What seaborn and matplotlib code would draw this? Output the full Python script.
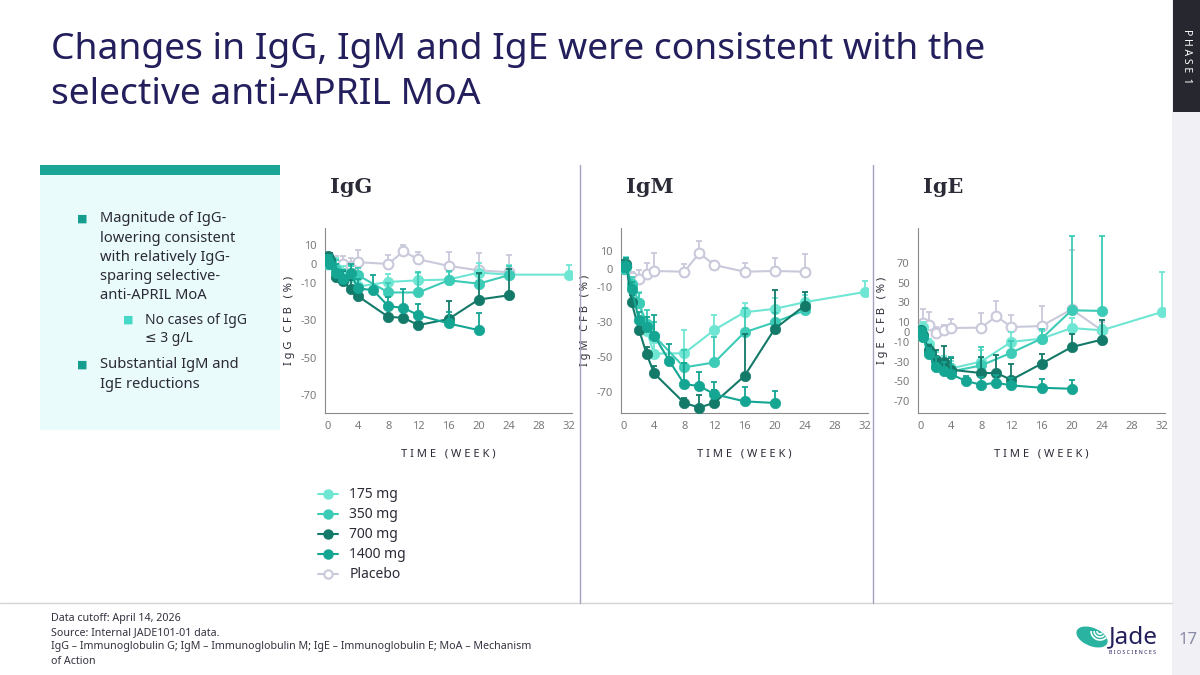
import matplotlib
matplotlib.use("Agg")
import matplotlib.pyplot as plt
import matplotlib.patches as mpatches
from matplotlib.lines import Line2D
import seaborn as sns
import pandas as pd
import numpy as np

# ---- data ----
doses = ["175 mg", "350 mg", "700 mg", "1400 mg", "Placebo"]
colors = {"175 mg": "#6fe6d3", "350 mg": "#3ccbb6", "700 mg": "#137a69",
          "1400 mg": "#14a593", "Placebo": "#c9c9dc"}

weeks = {
    "175 mg":  [0, 0.3, 1, 2, 3, 4, 8, 12, 16, 20, 24, 32],
    "350 mg":  [0, 0.3, 1, 2, 3, 4, 8, 12, 16, 20, 24],
    "700 mg":  [0, 0.3, 1, 2, 3, 4, 8, 10, 12, 16, 20, 24],
    "1400 mg": [0, 0.3, 1, 2, 3, 4, 6, 8, 10, 12, 16, 20],
    "Placebo": [0, 0.3, 1, 2, 3, 4, 8, 10, 12, 16, 20, 24],
}

igg = {
    "175 mg":  [0, 2, -2, -5, -7, -12, -9.6, -8.7, -8.3, -4.6, -5.7, -5.7],
    "350 mg":  [0, 1, -3, -8, -6, -6, -15.2, -15.2, -8.7, -10.5, -6],
    "700 mg":  [4, 2, -7, -9, -13.6, -17.2, -28.2, -28.7, -32.6, -29.4, -19, -16.7],
    "1400 mg": [2, 0, -5, -8, -5, -13, -14, -22.5, -23.4, -27.3, -31.7, -35.3],
    "Placebo": [0, 1, 0, 0, -1, 1, 0, 6.7, 2.5, -1, -3.4, -4.4],
}
igg_err = {
    "175 mg":  [0, 4, 5, 4, 4, 4, 4, 4, 4, 5, 5, 5],
    "350 mg":  [0, 4, 5, 5, 5, 4, 5, 11, 5, 5, 5],
    "700 mg":  [2, 4, 4, 5, 5, 4, 4, 4, 4, 9.4, 14, 14],
    "1400 mg": [3, 5, 5, 5, 5, 5, 8, 5, 10, 6, 6, 9],
    "Placebo": [3, 5, 4, 4, 4, 6.6, 5, 3.3, 4, 7.5, 9, 9.4],
}

igm = {
    "175 mg":  [0, 2, -9.3, -19, -35, -48, -47.8, -34.5, -24.5, -22.6, -18.8, -13],
    "350 mg":  [0, 1, -8.3, -19.4, -31, -37.8, -55.8, -53, -35.9, -30.2, -23.5],
    "700 mg":  [2, 3, -18.8, -34.5, -48.2, -59.2, -76, -78.6, -75.9, -60.7, -34, -20.7],
    "1400 mg": [1, 2, -11.2, -29.2, -33, -37.8, -52, -65.3, -66.4, -71, -75.1, -76],
    "Placebo": [0, 2, -4.5, -5.5, -2.7, -1.1, -1.5, 9.1, 2.3, -1.5, -1.1, -1.5],
}
igm_err = {
    "175 mg":  [0, 5, 4, 6, 8, 6, 13, 8.5, 5, 6, 4, 6],
    "350 mg":  [0, 5, 4, 6, 8, 8, 10, 14.7, 14, 5, 5],
    "700 mg":  [3, 3, 4, 4, 4, 4, 3, 7, 7, 24, 22, 7.5],
    "1400 mg": [3, 4, 4, 5, 6, 12, 9.5, 12, 8, 7, 8, 7],
    "Placebo": [3, 5, 3, 5, 6, 10, 4.5, 7, 2, 5, 7.5, 10],
}

ige = {
    "175 mg":  [0, 5, -12, -28, -32, -37, -30, -10, -6.8, 4, 1.7, 20.3],
    "350 mg":  [0, -5, -20, -33, -38, -40, -34, -21, -6.8, 22, 21.4],
    "700 mg":  [2, -3, -18, -28, -30.5, -38.3, -41.7, -41.7, -48.5, -32.2, -15.3, -7.8],
    "1400 mg": [1, -5, -22.7, -35.6, -40, -43, -49.8, -53.5, -51.5, -54.2, -56.6, -57.6],
    "Placebo": [0, 9, 7, -0.7, 1.7, 4, 4.4, 16, 5, 6, 23, 1.7],
}
ige_err = {
    "175 mg":  [0, 5, 5, 8, 8, 8, 12, 10, 8, 10, 5, 41],
    "350 mg":  [0, 5, 8, 8, 8, 8, 19, 12, 10, 75, 76],
    "700 mg":  [3, 5, 5, 10, 16, 12, 16, 18, 16, 10, 13.6, 20],
    "1400 mg": [3, 5, 6, 10, 10, 18, 5, 8, 8, 8, 9, 8.5],
    "Placebo": [3, 14, 13.5, 5.7, 5, 9.5, 15, 15, 12.5, 20, 60, 8],
}

x_ticks = [0, 4, 8, 12, 16, 20, 24, 28, 32]
igg_ticks = [10, 0, -10, -30, -50, -70]
igm_ticks = [10, 0, -10, -30, -50, -70]
ige_ticks = [70, 50, 30, 10, 0, -10, -30, -50, -70]

# ---- figure ----
sns.set_style("white")
plt.rcParams['font.family'] = ['Noto Sans', 'DejaVu Sans']
plt.rcParams['axes.unicode_minus'] = False

W, H = 1200, 675
fig = plt.figure(figsize=(12, 6.75), dpi=100)
fig.patch.set_facecolor("white")

def fx(x):
    return x / W

def fy(y):
    return 1 - y / H

def rect(x0, y0, x1, y1, color):
    fig.add_artist(mpatches.Rectangle((fx(x0), fy(y1)), fx(x1) - fx(x0), fy(y0) - fy(y1),
                                      transform=fig.transFigure, color=color, lw=0, zorder=0))

navy = "#231f5c"
txt = "#2b2b38"

# page decorations
rect(1172, 0, 1200, 675, "#f1f1f5")
rect(1173, 0, 1200, 112, "#26272f")
fig.text(fx(1187), fy(56), "P H A S E  1", rotation=270, color="white", fontsize=7.5,
         ha="center", va="center")
fig.add_artist(Line2D([0, fx(1172)], [fy(603), fy(603)], transform=fig.transFigure,
                      color="#d4d4d8", lw=1))
for xs in [580, 873]:
    fig.add_artist(Line2D([fx(xs), fx(xs)], [fy(165), fy(603)], transform=fig.transFigure,
                          color="#a3a3bf", lw=1))

fig.text(fx(51), fy(50), "Changes in IgG, IgM and IgE were consistent with the",
         fontsize=26.8, color=navy, va="center")
fig.text(fx(51), fy(95), "selective anti-APRIL MoA", fontsize=26.8, color=navy, va="center")

# left box
rect(40, 165, 280, 430, "#eafbfb")
rect(40, 165, 280, 175, "#1aa596")
lines = [(100, 219, "Magnitude of IgG-"), (100, 238, "lowering consistent"),
         (100, 257, "with relatively IgG-"), (100, 276, "sparing selective-"),
         (100, 295, "anti-APRIL MoA"), (145, 320, "No cases of IgG"),
         (145, 339, "\u2264 3 g/L"), (100, 365, "Substantial IgM and"),
         (100, 384, "IgE reductions")]
for x, y, s in lines:
    fs = 10.6 if x == 100 else 10
    fig.text(fx(x), fy(y), s, fontsize=fs, color=txt, va="center")
for x, y, c in [(82, 219, "#159e8e"), (128, 320, "#46d8c8"), (82, 365, "#159e8e")]:
    fig.text(fx(x), fy(y), "\u25A0", fontsize=8, color=c, va="center", ha="center",
             family=["DejaVu Sans"])

# footer
foot = ["Data cutoff: April 14, 2026", "Source: Internal JADE101-01 data.",
        "IgG \u2013 Immunoglobulin G; IgM \u2013 Immunoglobulin M; IgE \u2013 Immunoglobulin E; MoA \u2013 Mechanism",
        "of Action"]
for i, s in enumerate(foot):
    fig.text(fx(51), fy(619 + 14 * i), s, fontsize=7.7, color="#333340", va="center")
fig.text(fx(1188), fy(640), "17", fontsize=12, color="#8a8aa8", ha="center", va="center")

# logo
fig.add_artist(mpatches.Ellipse((fx(1092), fy(637)), fx(24), 22 / H, angle=35,
                                transform=fig.transFigure, color="#2ab3a0", zorder=2))
for k, r in enumerate([9, 6, 3]):
    fig.add_artist(mpatches.Arc((fx(1100), fy(631)), 2 * r / W, 2 * r / H, theta1=180, theta2=300,
                                transform=fig.transFigure, color="white", lw=1.2, zorder=3))
fig.text(fx(1109), fy(637), "Jade", fontsize=17.5, color=navy, va="center", ha="left")
fig.text(fx(1109), fy(652), "B I O S C I E N C E S", fontsize=3.8, color=navy, va="center")

# ---- panels ----
panels = [
    ("IgG", igg, igg_err, igg_ticks, (-79.5, 19.2), 325, "I g G   C F B   ( % )"),
    ("IgM", igm, igm_err, igm_ticks, (-81.7, 23.3), 621, "I g M   C F B   ( % )"),
    ("IgE", ige, ige_err, ige_ticks, (-82.2, 105.5), 918, "I g E   C F B   ( % )"),
]

for title, vals, errs, yt, ylim, left, ylab in panels:
    ax = fig.add_axes([fx(left), fy(413), fx(247), (413 - 228) / H])
    rows = []
    for d in doses:
        for w, v, e in zip(weeks[d][:len(vals[d])], vals[d], errs[d]):
            rows.append({"week": w, "value": v, "err": e, "dose": d})
    df = pd.DataFrame(rows)
    for d in doses:
        sub = df[df["dose"] == d]
        c = colors[d]
        z = 2 if d == "Placebo" else 3
        ax.errorbar(sub["week"], sub["value"], yerr=[np.zeros(len(sub)), sub["err"]],
                    fmt="none", ecolor=c, elinewidth=1.3, capsize=2, capthick=1.3, zorder=z)
        if d == "Placebo":
            sns.lineplot(data=sub, x="week", y="value", ax=ax, color=c, lw=1.5, marker="o",
                         markersize=7, markerfacecolor="white", markeredgecolor=c,
                         markeredgewidth=1.5, zorder=z, legend=False)
        else:
            sns.lineplot(data=sub, x="week", y="value", ax=ax, color=c, lw=1.5, marker="o",
                         markersize=7.5, markeredgecolor=c, markeredgewidth=0.5,
                         zorder=z, legend=False)
    ax.set_xlim(-0.4, 32.4)
    ax.set_ylim(*ylim)
    ax.set_xticks(x_ticks)
    ax.set_yticks(yt)
    ax.set_yticklabels([str(t) for t in yt])
    ax.tick_params(axis="both", length=3, width=0.8, color="#8a8a8a", labelcolor="#7a7a7a",
                   labelsize=8, pad=3)
    for s in ["top", "right"]:
        ax.spines[s].set_visible(False)
    for s in ["left", "bottom"]:
        ax.spines[s].set_color("#8a8a8a")
        ax.spines[s].set_linewidth(0.8)
    ax.set_facecolor("none")
    ax.set_xlabel("T I M E   ( W E E K )", fontsize=8, color=txt, labelpad=12, fontweight="medium")
    ax.set_ylabel(ylab, fontsize=8, color=txt, fontweight="bold", labelpad=4)
    fig.text(fx(left + 5), fy(187), title, fontsize=15, color=txt, fontweight="bold",
             va="center", family=["DejaVu Serif"])

# legend
handles = []
for d in doses:
    if d == "Placebo":
        h = Line2D([], [], color=colors[d], lw=1.5, marker="o", markersize=6,
                   markerfacecolor="white", markeredgewidth=1.5)
    else:
        h = Line2D([], [], color=colors[d], lw=1.5, marker="o", markersize=6.5)
    handles.append(h)
fig.legend(handles, doses, loc="upper left", bbox_to_anchor=(fx(305), fy(475)),
           frameon=False, fontsize=10, handlelength=1.5, labelspacing=0.36,
           handletextpad=0.8, labelcolor=txt)

fig.savefig("out.png", dpi=100)
